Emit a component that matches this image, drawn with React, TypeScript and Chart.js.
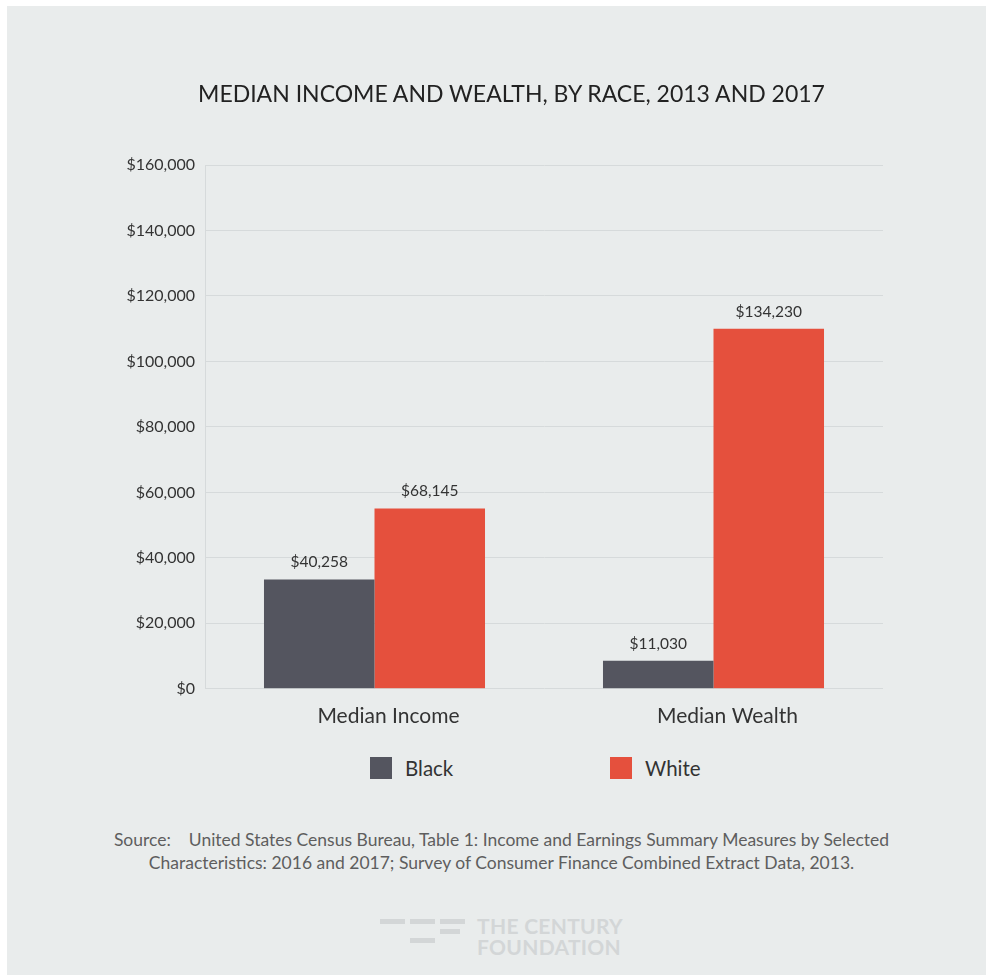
import React, { useEffect, useRef } from "react";
import { Chart, registerables } from "chart.js";

Chart.register(...registerables);

// ---- data ----
const categories = ["Median Income", "Median Wealth"];
const seriesNames = ["Black", "White"];
const seriesColors = ["#54555f", "#e5503d"];
// bar heights as drawn in the reference
const blackValues = [33400, 8600];
const whiteValues = [55100, 110000];
// printed value labels above the bars
const blackLabels = ["$40,258", "$11,030"];
const whiteLabels = ["$68,145", "$134,230"];
const valueLabels = [blackLabels, whiteLabels];
const yMax = 160000;
const yStep = 20000;
const titleText = "MEDIAN INCOME AND WEALTH, BY RACE, 2013 AND 2017";
const sourceLine1 =
  "Source:\u00a0\u00a0\u00a0\u00a0United States Census Bureau, Table 1: Income and Earnings Summary Measures by Selected";
const sourceLine2 =
  "Characteristics: 2016 and 2017; Survey of Consumer Finance Combined Extract Data, 2013.";

const FONT = "Lato, 'Open Sans', sans-serif";
const TEXT = "#333333";
const GRID = "#d6dadb";
const BG = "#e9ecec";

const valueLabelPlugin = {
  id: "valueLabels",
  afterDatasetsDraw(chart: any) {
    const ctx = chart.ctx;
    ctx.save();
    ctx.font = `15.5px ${FONT}`;
    ctx.fillStyle = TEXT;
    ctx.textAlign = "center";
    ctx.textBaseline = "middle";
    chart.data.datasets.forEach((_ds: any, di: number) => {
      const meta = chart.getDatasetMeta(di);
      meta.data.forEach((bar: any, i: number) => {
        const txt = valueLabels[di][i];
        ctx.fillText(txt, bar.x, bar.y - 17);
      });
    });
    ctx.restore();
  },
};

export default function App() {
  const ref = useRef<HTMLCanvasElement>(null);

  useEffect(() => {
    document.body.style.margin = "0";
    document.body.style.background = "#ffffff";
    const canvas = ref.current!;
    const chart = new Chart(canvas, {
      type: "bar",
      data: {
        labels: categories,
        datasets: [
          {
            label: seriesNames[0],
            data: blackValues,
            backgroundColor: seriesColors[0],
            borderWidth: 0,
            barPercentage: 1,
            categoryPercentage: 0.652,
          },
          {
            label: seriesNames[1],
            data: whiteValues,
            backgroundColor: seriesColors[1],
            borderWidth: 0,
            barPercentage: 1,
            categoryPercentage: 0.652,
          },
        ],
      },
      options: {
        responsive: false,
        animation: false,
        devicePixelRatio: 1,
        layout: { padding: { left: 0, right: 103, top: 159, bottom: 2 } },
        plugins: {
          legend: { display: false },
          tooltip: { enabled: false },
          title: { display: false },
        },
        scales: {
          x: {
            grid: { display: false, drawTicks: false },
            border: { display: false },
            ticks: {
              color: TEXT,
              font: { family: FONT, size: 21 },
              padding: 15,
              labelOffset: 14,
            },
          },
          y: {
            min: 0,
            max: yMax,
            afterFit: (scale: any) => {
              scale.width = 198;
            },
            grid: { color: GRID, drawTicks: false, lineWidth: 1 },
            border: { display: true, color: GRID },
            ticks: {
              stepSize: yStep,
              color: TEXT,
              padding: 10,
              font: { family: FONT, size: 16 },
              callback: (v: any) => "$" + Number(v).toLocaleString("en-US"),
            },
          },
        },
      },
      plugins: [valueLabelPlugin],
    });
    return () => chart.destroy();
  }, []);

  return (
    <div
      style={{
        position: "absolute",
        left: 7,
        top: 6,
        width: 979,
        height: 969,
        background: BG,
        fontFamily: FONT,
      }}
    >
      <div
        style={{
          position: "absolute",
          left: 0,
          top: 74,
          width: 1009,
          textAlign: "center",
          fontSize: 23,
          lineHeight: "26px",
          color: "#222222",
        }}
      >
        {titleText}
      </div>
      <canvas ref={ref} width={979} height={740} style={{ display: "block" }} />
      {seriesNames.map((name, i) => (
        <div
          key={name}
          style={{
            position: "absolute",
            left: i === 0 ? 363 : 603,
            top: 751,
            height: 22,
            display: "flex",
            alignItems: "center",
          }}
        >
          <span
            style={{
              display: "inline-block",
              width: 22,
              height: 22,
              background: seriesColors[i],
              marginRight: 13,
            }}
          />
          <span style={{ fontSize: 20.5, color: TEXT, lineHeight: "22px" }}>{name}</span>
        </div>
      ))}
      <div
        style={{
          position: "absolute",
          left: 5,
          top: 822,
          width: 979,
          textAlign: "center",
          fontSize: 17.5,
          lineHeight: "23px",
          color: "#5e5e5e",
        }}
      >
        <div>{sourceLine1}</div>
        <div>{sourceLine2}</div>
      </div>
      {/* logo */}
      <div style={{ position: "absolute", left: 373, top: 913 }}>
        {[
          [0, 0, 25, 5],
          [30, 0, 25, 5],
          [60, 0, 25, 5],
          [60, 10, 20, 5],
          [30, 19, 25, 5],
        ].map(([x, y, w, h], k) => (
          <div
            key={k}
            style={{ position: "absolute", left: x, top: y, width: w, height: h, background: "#d3d6d7" }}
          />
        ))}
      </div>
      <div
        style={{
          position: "absolute",
          left: 470,
          top: 909,
          fontSize: 21,
          fontWeight: 700,
          lineHeight: "21px",
          color: "#d3d6d7",
          letterSpacing: 0.3,
        }}
      >
        <div>THE CENTURY</div>
        <div>FOUNDATION</div>
      </div>
    </div>
  );
}
